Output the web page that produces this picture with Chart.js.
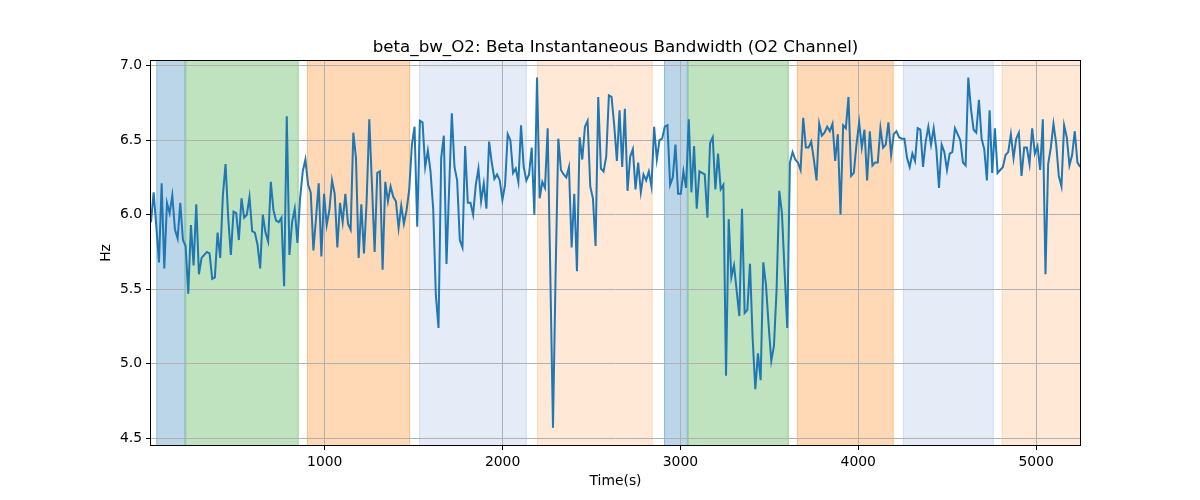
<!DOCTYPE html>
<html>
<head>
<meta charset="utf-8">
<script src="https://cdn.jsdelivr.net/npm/chart.js@4.4.1/dist/chart.umd.min.js"></script>
<style>
  html, body { margin: 0; padding: 0; background: #ffffff; }
  #wrap { width: 1200px; height: 500px; position: relative; }
</style>
</head>
<body>
<div id="wrap"><canvas id="c" width="1200" height="500"></canvas></div>
<script>
// ---- data ----
const chartTitle = "beta_bw_O2: Beta Instantaneous Bandwidth (O2 Channel)";
const xLabel = "Time(s)";
const yLabel = "Hz";
const startTime = 23;      // s, first sample
const sampleStep = 14.97;  // s between samples
const bandwidth = [
  5.95, 6.15, 5.92, 5.68, 6.21, 5.64, 6.08, 6.01, 6.13, 5.90,
  5.84, 6.08, 5.83, 5.79, 5.47, 5.93, 5.66, 6.07, 5.60, 5.71,
  5.73, 5.75, 5.74, 5.57, 5.58, 5.88, 5.71, 6.13, 6.34, 5.98,
  5.73, 6.02, 6.01, 5.83, 6.11, 5.98, 6.00, 6.12, 5.89, 5.88,
  5.80, 5.64, 6.00, 5.88, 5.82, 6.22, 6.03, 5.96, 5.95, 5.98,
  5.52, 6.66, 5.73, 5.95, 6.04, 5.81, 6.11, 6.29, 6.37,
  6.20, 6.15, 5.76, 5.98, 6.21, 5.72, 6.14, 5.93, 6.03, 6.23,
  6.14, 5.78, 6.08, 5.95, 6.14, 5.94, 5.90, 6.55, 6.38, 5.71,
  6.07, 5.74, 6.09, 6.64, 6.20, 5.75, 6.28, 6.29, 5.63, 6.22,
  6.09, 6.19, 6.12, 6.09, 5.91, 6.06, 5.94, 6.03, 6.17, 6.47,
  6.59, 5.92, 6.63, 6.62, 6.32, 6.43, 6.29, 6.04, 5.46, 5.24,
  6.38, 6.53, 5.67, 6.18, 6.68, 6.32, 6.23, 5.83, 5.78,
  6.46, 6.08, 6.08, 6.00, 6.20, 6.31, 6.09, 6.21, 6.04, 6.49,
  6.35, 6.24, 6.27, 6.23, 6.10, 6.20, 6.54, 6.50, 6.28, 6.31,
  6.22, 6.60, 6.32, 6.23, 6.27, 6.45, 6.00, 6.92, 6.11, 6.22,
  6.18, 6.58, 5.60, 4.57, 5.62, 6.51, 6.30, 6.27, 6.25, 6.32,
  5.78, 6.14, 5.62, 6.52, 6.37, 6.59, 6.63, 6.19, 6.11, 5.79,
  6.79, 6.31, 6.29, 6.39, 6.80, 6.79, 6.60, 6.36,
  6.70, 6.32, 6.71, 6.16, 6.39, 6.44, 6.17, 6.35, 6.15, 6.27,
  6.23, 6.29, 6.19, 6.59, 6.37, 6.50, 6.51, 6.59, 6.60, 6.20,
  6.25, 6.47, 6.14, 6.14, 6.29, 6.18, 6.64, 6.15, 6.46, 6.04,
  6.29, 6.28, 6.27, 5.98, 6.48, 6.52, 6.17, 6.41, 6.17, 6.20,
  4.92, 5.97, 5.58, 5.66, 5.49, 5.32, 6.04, 5.34, 5.36, 5.67,
  5.17, 4.83, 5.07, 4.89, 5.68, 5.53, 5.26, 5.02,
  5.12, 5.50, 6.16, 6.01, 5.62, 5.24, 6.35, 6.42, 6.37, 6.35,
  6.30, 6.65, 6.45, 6.45, 6.49, 6.37, 6.23, 6.61, 6.53, 6.55,
  6.59, 6.56, 6.61, 6.36, 6.54, 6.00, 6.60, 6.58, 6.79, 6.26,
  6.28, 6.47, 6.62, 6.45, 6.57, 6.23, 6.56, 6.33, 6.35, 6.35,
  6.58, 6.45, 6.47, 6.62, 6.40, 6.54, 6.56, 6.52, 6.51, 6.51,
  6.38, 6.32, 6.41, 6.36, 6.58, 6.57, 6.32, 6.49, 6.59,
  6.47, 6.58, 6.44, 6.18, 6.47, 6.42, 6.30, 6.41, 6.42, 6.58,
  6.54, 6.50, 6.35, 6.33, 6.92, 6.71, 6.57, 6.55, 6.77, 6.51,
  6.44, 6.23, 6.70, 6.28, 6.58, 6.28, 6.30, 6.32, 6.40, 6.42,
  6.54, 6.38, 6.51, 6.55, 6.26, 6.45, 6.45, 6.34, 6.58, 6.41,
  6.46, 6.30, 6.64, 5.60, 6.34, 6.45, 6.61, 6.48, 6.26, 6.19,
  6.60, 6.52, 6.33, 6.40, 6.56, 6.35, 6.32
];
// shaded stage intervals (s)
const spanStart = [53, 216, 900, 1531, 2194, 2908, 3041, 3655, 4251, 4807];
const spanEnd   = [216, 853, 1480, 2136, 2844, 3041, 3609, 4199, 4762, 5400];
const spanKind  = ["blue", "green", "orange", "lightblue", "lightorange", "blue", "green", "orange", "lightblue", "lightorange"];
const xTicks = [1000, 2000, 3000, 4000, 5000];
const yTicks = [4.5, 5.0, 5.5, 6.0, 6.5, 7.0];
const xRange = [23, 5247];
const yRange = [4.455, 7.031];

// ---- styles ----
const spanFill = {
  blue: "rgba(31,119,180,0.3)",
  green: "rgba(44,160,44,0.3)",
  orange: "rgba(255,127,14,0.3)",
  lightblue: "rgba(110,150,215,0.18)",
  lightorange: "rgba(255,127,14,0.17)"
};
const FONT = "'DejaVu Sans', 'Liberation Sans', sans-serif";

const points = bandwidth.map((v, i) => ({ x: startTime + i * sampleStep, y: v }));

const spanPlugin = {
  id: "spans",
  beforeDraw(chart) {
    const { ctx, chartArea: a, scales: { x } } = chart;
    ctx.save();
    ctx.beginPath();
    ctx.rect(a.left, a.top, a.right - a.left, a.bottom - a.top);
    ctx.clip();
    for (let i = 0; i < spanStart.length; i++) {
      const x0 = x.getPixelForValue(spanStart[i]);
      const x1 = x.getPixelForValue(spanEnd[i]);
      ctx.fillStyle = spanFill[spanKind[i]];
      ctx.fillRect(x0, a.top, x1 - x0, a.bottom - a.top);
      ctx.strokeStyle = spanFill[spanKind[i]];
      ctx.lineWidth = 1;
      ctx.strokeRect(x0 + 0.5, a.top - 1, x1 - x0 - 1, a.bottom - a.top + 2);
    }
    ctx.restore();
  },
  afterDraw(chart) {
    const { ctx, chartArea: a } = chart;
    ctx.save();
    ctx.strokeStyle = "#000";
    ctx.lineWidth = 1;
    ctx.strokeRect(Math.round(a.left) - 0.5, Math.round(a.top) - 0.5,
                   Math.round(a.right - a.left) + 1, Math.round(a.bottom - a.top) + 1);
    ctx.fillStyle = "#000";
    ctx.textAlign = "center";
    ctx.font = "16.7px " + FONT;
    ctx.textBaseline = "alphabetic";
    ctx.fillText(chartTitle, (a.left + a.right) / 2, a.top - 9);
    ctx.font = "13.9px " + FONT;
    ctx.textBaseline = "middle";
    ctx.fillText(xLabel, (a.left + a.right) / 2, 481);
    ctx.translate(106, (a.top + a.bottom) / 2);
    ctx.rotate(-Math.PI / 2);
    ctx.fillText(yLabel, 0, 0);
    ctx.restore();
  }
};

new Chart(document.getElementById("c"), {
  type: "line",
  data: {
    datasets: [{
      data: points,
      borderColor: "#1f77b4",
      borderWidth: 2,
      pointRadius: 0,
      tension: 0,
      fill: false
    }]
  },
  options: {
    responsive: false,
    animation: false,
    devicePixelRatio: 1,
    layout: { padding: { left: 0, right: 120, top: 61, bottom: 0 } },
    plugins: { legend: { display: false }, title: { display: false }, tooltip: { enabled: false } },
    scales: {
      x: {
        type: "linear",
        min: xRange[0], max: xRange[1],
        afterBuildTicks(s) { s.ticks = xTicks.map(v => ({ value: v })); },
        afterFit(s) { s.height = 55; },
        grid: { color: "#b0b0b0", lineWidth: 1, tickColor: "#000", tickLength: 5 },
        border: { display: false },
        ticks: { color: "#000", padding: 4, font: { family: FONT, size: 13.9 }, maxRotation: 0,
                 callback: v => String(v) }
      },
      y: {
        type: "linear",
        min: yRange[0], max: yRange[1],
        afterBuildTicks(s) { s.ticks = yTicks.map(v => ({ value: v })); },
        afterFit(s) { s.width = 151; },
        grid: { color: "#b0b0b0", lineWidth: 1, tickColor: "#000", tickLength: 5 },
        border: { display: false },
        ticks: { color: "#000", padding: 4, font: { family: FONT, size: 13.9 },
                 callback: v => Number(v).toFixed(1) }
      }
    }
  },
  plugins: [spanPlugin]
});
</script>
</body>
</html>
